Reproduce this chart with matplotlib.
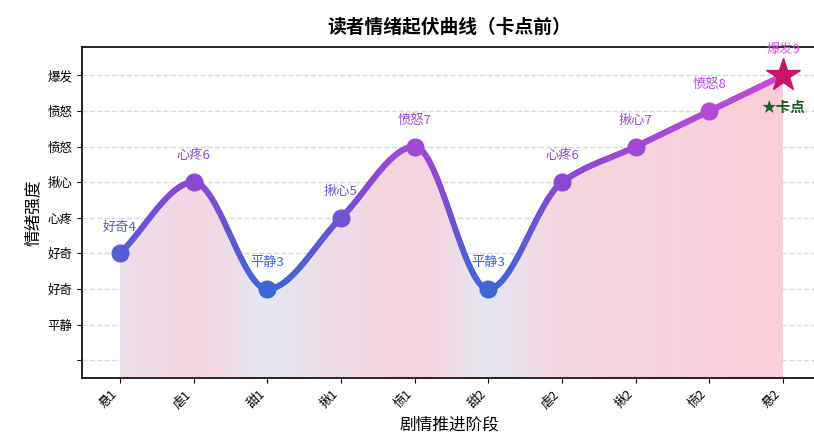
import numpy as np
import matplotlib
matplotlib.use('Agg')
import matplotlib.pyplot as plt
from matplotlib.collections import LineCollection
from matplotlib.colors import LinearSegmentedColormap

plt.rcParams['font.family'] = ['Noto Sans CJK SC', 'DejaVu Sans']
plt.rcParams['axes.unicode_minus'] = False

# data
stages = ['悬1', '虐1', '甜1', '揪1', '愤1', '甜2', '虐2', '揪2', '愤2', '悬2']
values = [4, 6, 3, 5, 7, 3, 6, 7, 8, 9]
point_labels = ['好奇4', '心疼6', '平静3', '揪心5', '愤怒7', '平静3', '心疼6', '揪心7', '愤怒8', '爆发9']
ytick_vals = [1, 2, 3, 4, 5, 6, 7, 8, 9]
ytick_labels = ['', '平静', '好奇', '好奇', '心疼', '揪心', '愤怒', '愤怒', '爆发']


def pchip(x, y, xs):
    # monotone cubic so peaks sit on the points, ends use the chord slope
    x = np.asarray(x, float)
    y = np.asarray(y, float)
    n = len(x)
    h = np.diff(x)
    delta = np.diff(y) / h
    d = np.zeros(n)
    for k in range(1, n - 1):
        if delta[k - 1] * delta[k] > 0:
            w1 = 2 * h[k] + h[k - 1]
            w2 = h[k] + 2 * h[k - 1]
            d[k] = (w1 + w2) / (w1 / delta[k - 1] + w2 / delta[k])
    d[0] = delta[0]
    d[-1] = delta[-1]
    idx = np.clip(np.searchsorted(x, xs, side='right') - 1, 0, n - 2)
    t = (xs - x[idx]) / h[idx]
    h00 = 2 * t ** 3 - 3 * t ** 2 + 1
    h10 = t ** 3 - 2 * t ** 2 + t
    h01 = -2 * t ** 3 + 3 * t ** 2
    h11 = t ** 3 - t ** 2
    return h00 * y[idx] + h10 * h[idx] * d[idx] + h01 * y[idx + 1] + h11 * h[idx] * d[idx + 1]


x = np.arange(len(stages))
xs = np.linspace(0, len(stages) - 1, 600)
ys = pchip(x, values, xs)

line_cmap = LinearSegmentedColormap.from_list('line', ['#3d66d6', '#8a48d2', '#c94ad8'])
fill_cmap = LinearSegmentedColormap.from_list('fill', ['#e6e6f0', '#f1d8e4', '#fbcdd8'])
vmin, vmax = 3, 9


def norm(v):
    return np.clip((v - vmin) / (vmax - vmin), 0, 1)


fig = plt.figure(figsize=(8.14, 4.41), dpi=100)
ax = fig.add_axes([0.1007, 0.1429, 0.9017, 0.7505])

# gradient fill under the curve (image clipped by the area polygon)
ybot = 0.5
poly = ax.fill_between(xs, ybot, ys, color='none', lw=0)
grad = fill_cmap(norm(ys) ** 0.8)[np.newaxis, :, :]
im = ax.imshow(grad, extent=[xs[0], xs[-1], ybot, ys.max()], aspect='auto',
               origin='lower', zorder=1, interpolation='bilinear')
im.set_clip_path(poly.get_paths()[0], transform=ax.transData)
ax.set_xlim(-0.516, 9.448)
ax.set_ylim(0.5, 9.8)

# gradient line
pts = np.column_stack([xs, ys]).reshape(-1, 1, 2)
segs = np.concatenate([pts[:-1], pts[1:]], axis=1)
lc = LineCollection(segs, colors=line_cmap(norm(ys[:-1])), linewidths=4.2, capstyle='round', zorder=3)
ax.add_collection(lc)

for i in range(len(stages)):
    col = line_cmap(norm(values[i]))
    if i == len(stages) - 1:
        ax.plot(x[i], values[i], marker='*', markersize=25, color='#c7166a', zorder=5)
        lab_col = '#d25ad8'
    else:
        ax.plot(x[i], values[i], marker='o', markersize=12, color=col, zorder=4)
        lab_col = col
    ax.annotate(point_labels[i], (x[i], values[i]), xytext=(0, 19), textcoords='offset points',
                ha='center', va='center', fontsize=9.5, color=lab_col, zorder=6)

ax.text(9.0, 8.13, '★卡点', ha='center', va='center', fontsize=10.5, color='#1b5e20',
        fontweight='bold', zorder=6)

ax.set_xticks(x)
ax.set_xticklabels(stages, rotation=45, ha='right', fontsize=9)
ax.set_yticks(ytick_vals)
ax.set_yticklabels(ytick_labels, fontsize=9)
ax.grid(axis='y', linestyle='--', color='#d0d0d0', lw=1, alpha=0.8)
ax.set_axisbelow(True)
for s in ax.spines.values():
    s.set_linewidth(1.2)

ax.set_xlabel('剧情推进阶段', fontsize=12)
ax.set_ylabel('情绪强度', fontsize=12)
ax.set_title('读者情绪起伏曲线（卡点前）', fontsize=13.5, fontweight='bold', pad=10)

fig.savefig('out.png', dpi=100)
